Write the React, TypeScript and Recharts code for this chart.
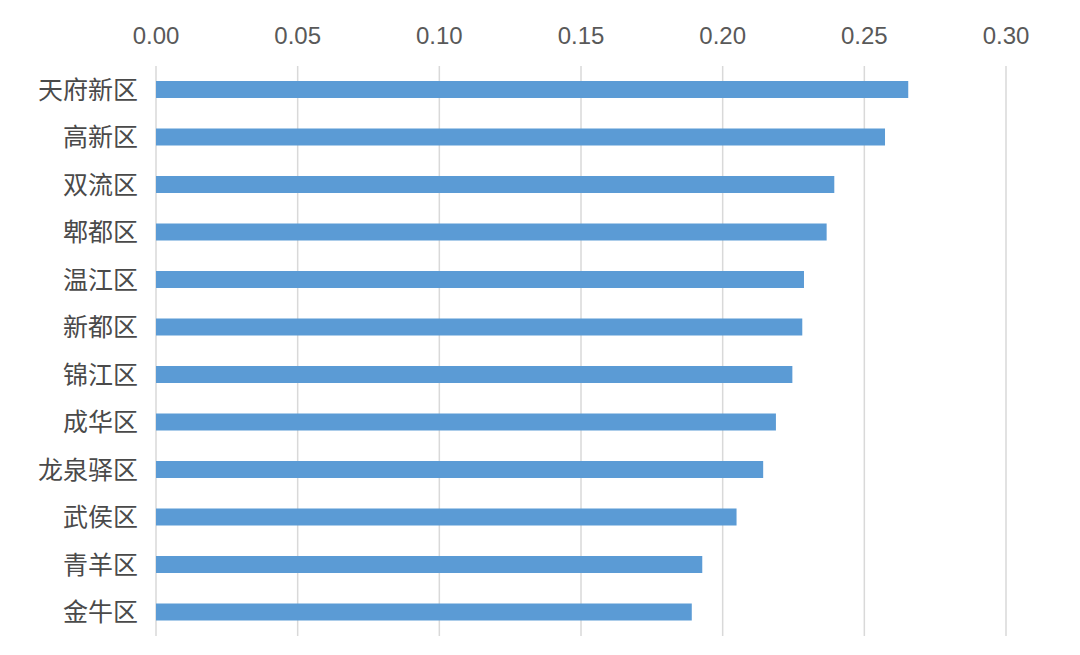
import { BarChart, Bar, XAxis, YAxis, CartesianGrid } from 'recharts';

const DISTRICTS = ['天府新区', '高新区', '双流区', '郫都区', '温江区', '新都区', '锦江区', '成华区', '龙泉驿区', '武侯区', '青羊区', '金牛区'];
const VALUES = [0.2655, 0.2573, 0.2394, 0.2367, 0.2287, 0.2281, 0.2246, 0.2188, 0.2143, 0.2049, 0.1928, 0.1891];
const X_TICKS = [0, 0.05, 0.1, 0.15, 0.2, 0.25, 0.3];

const data = DISTRICTS.map((name, i) => ({ name, value: VALUES[i] }));

const FONT = '"Liberation Sans", "Noto Sans CJK SC", sans-serif';

export default function App() {
  return (
    <div style={{ position: 'absolute', left: 0, top: 0, width: 1080, height: 655, background: '#fff' }}>
      <BarChart
        width={1080}
        height={655}
        data={data}
        layout="vertical"
        margin={{ top: 0, right: 74, left: 0, bottom: 19 }}
        style={{ fontFamily: FONT }}
      >
        <CartesianGrid horizontal={false} stroke="#d9d9d9" strokeWidth={1.5} />
        <XAxis
          type="number"
          orientation="top"
          domain={[0, 0.3]}
          ticks={X_TICKS}
          tickFormatter={(v: number) => v.toFixed(2)}
          height={66}
          axisLine={false}
          tickLine={false}
          tickSize={0}
          tickMargin={22}
          tick={{ fill: '#595959', fontSize: 24 }}
        />
        <YAxis
          type="category"
          dataKey="name"
          width={156}
          axisLine={false}
          tickLine={false}
          tickSize={0}
          tickMargin={18}
          tick={{ fill: '#4a4a4a', fontSize: 25 }}
        />
        <Bar dataKey="value" fill="#5B9BD5" barSize={17} isAnimationActive={false} />
      </BarChart>
    </div>
  );
}
